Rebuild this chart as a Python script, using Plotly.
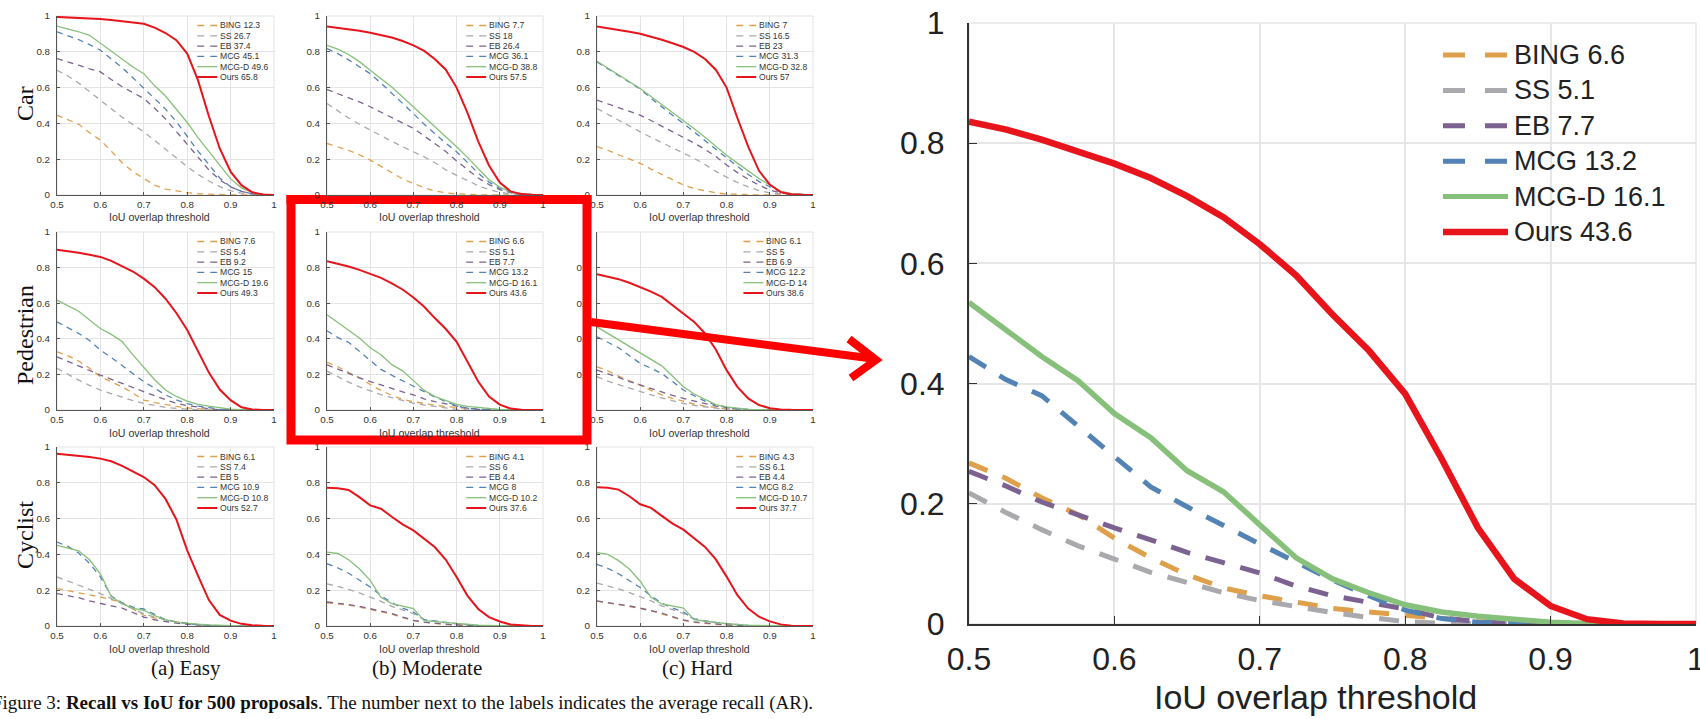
import plotly.graph_objects as go

W, H = 1700, 719

# ---------------- data ----------------
IOU = [0.5, 0.525, 0.55, 0.575, 0.6, 0.625, 0.65, 0.675, 0.7, 0.725, 0.75,
       0.775, 0.8, 0.825, 0.85, 0.875, 0.9, 0.925, 0.95, 0.975, 1.0]
METHODS = ["BING", "SS", "EB", "MCG", "MCG-D", "Ours"]
ROW_LABELS = ["Car", "Pedestrian", "Cyclist"]
COL_LABELS = ["(a) Easy", "(b) Moderate", "(c) Hard"]
X_TICKS = [0.5, 0.6, 0.7, 0.8, 0.9, 1.0]
X_TICK_TEXT = ["0.5", "0.6", "0.7", "0.8", "0.9", "1"]
Y_TICKS = [0, 0.2, 0.4, 0.6, 0.8, 1.0]
Y_TICK_TEXT = ["0", "0.2", "0.4", "0.6", "0.8", "1"]
X_LABEL = "IoU overlap threshold"

car_easy = {
    "BING":  [.446, .42, .395, .348, .307, .245, .18, .13, .093, .055, .033, .022, .013, .007, .004, .002, .001, 0, 0, 0, 0],
    "SS":    [.697, .665, .625, .578, .53, .48, .435, .393, .353, .305, .255, .206, .158, .115, .078, .047, .024, .01, .004, .001, 0],
    "EB":    [.762, .745, .725, .705, .688, .645, .605, .572, .539, .485, .425, .355, .285, .215, .14, .085, .045, .02, .007, .002, 0],
    "MCG":   [.911, .89, .868, .84, .809, .76, .712, .655, .595, .535, .48, .41, .325, .245, .17, .095, .046, .02, .007, .002, 0],
    "MCG-D": [.944, .93, .912, .892, .848, .80, .755, .715, .678, .61, .553, .48, .405, .32, .245, .165, .09, .04, .013, .004, 0],
    "Ours":  [.995, .993, .99, .987, .983, .978, .972, .966, .957, .935, .905, .865, .79, .64, .44, .26, .13, .055, .015, .003, 0],
}
car_moderate = {
    "BING":  [.288, .27, .25, .225, .195, .16, .125, .09, .065, .04, .022, .012, .007, .003, .001, 0, 0, 0, 0, 0, 0],
    "SS":    [.511, .47, .43, .395, .362, .33, .30, .27, .242, .213, .18, .14, .11, .08, .052, .03, .015, .006, .002, .001, 0],
    "EB":    [.589, .567, .545, .52, .493, .463, .433, .403, .372, .33, .285, .243, .19, .14, .095, .058, .03, .014, .006, .002, 0],
    "MCG":   [.818, .79, .755, .718, .678, .625, .57, .512, .455, .395, .34, .29, .242, .18, .122, .072, .036, .013, .004, .001, 0],
    "MCG-D": [.836, .815, .785, .745, .697, .65, .603, .548, .493, .44, .382, .327, .27, .21, .145, .085, .044, .017, .005, .001, 0],
    "Ours":  [.942, .935, .927, .917, .907, .894, .88, .86, .836, .805, .758, .70, .60, .46, .30, .165, .07, .02, .005, .001, 0],
}
car_hard = {
    "BING":  [.27, .25, .225, .20, .177, .145, .115, .085, .056, .036, .022, .012, .006, .003, .001, 0, 0, 0, 0, 0, 0],
    "SS":    [.483, .45, .415, .385, .353, .322, .292, .262, .232, .205, .17, .132, .10, .07, .045, .025, .012, .005, .002, 0, 0],
    "EB":    [.53, .51, .488, .467, .446, .416, .385, .355, .325, .29, .255, .215, .168, .125, .088, .055, .028, .012, .004, .001, 0],
    "MCG":   [.743, .705, .668, .632, .592, .54, .49, .445, .40, .352, .302, .252, .205, .16, .115, .075, .046, .018, .006, .002, 0],
    "MCG-D": [.747, .71, .672, .635, .595, .55, .506, .462, .418, .37, .322, .272, .222, .178, .135, .092, .056, .022, .008, .002, 0],
    "Ours":  [.942, .933, .922, .912, .901, .885, .867, .848, .827, .80, .76, .70, .60, .43, .27, .135, .058, .016, .004, .001, 0],
}
ped_easy = {
    "BING":  [.327, .305, .275, .235, .187, .16, .13, .095, .056, .042, .03, .02, .012, .006, .002, 0, 0, 0, 0, 0, 0],
    "SS":    [.234, .2, .168, .138, .112, .092, .072, .053, .037, .025, .015, .009, .004, .001, 0, 0, 0, 0, 0, 0, 0],
    "EB":    [.299, .272, .248, .222, .196, .172, .148, .125, .103, .08, .058, .038, .025, .014, .007, .002, 0, 0, 0, 0, 0],
    "MCG":   [.495, .463, .43, .39, .336, .295, .25, .205, .159, .122, .085, .057, .036, .022, .012, .005, .002, 0, 0, 0, 0],
    "MCG-D": [.617, .585, .555, .505, .458, .425, .385, .31, .243, .17, .112, .076, .05, .032, .022, .013, .005, .002, .001, 0, 0],
    "Ours":  [.901, .893, .883, .872, .86, .838, .81, .778, .738, .69, .625, .545, .449, .325, .21, .115, .055, .015, .003, 0, 0],
}
ped_moderate = {
    "BING":  [.268, .243, .21, .182, .143, .11, .082, .06, .047, .036, .026, .02, .014, .008, .004, .001, 0, 0, 0, 0, 0],
    "SS":    [.218, .186, .157, .13, .108, .086, .069, .052, .039, .028, .019, .011, .004, .001, 0, 0, 0, 0, 0, 0, 0],
    "EB":    [.254, .23, .203, .181, .16, .14, .119, .102, .085, .063, .047, .036, .025, .01, .004, .001, 0, 0, 0, 0, 0],
    "MCG":   [.445, .407, .38, .33, .279, .228, .195, .163, .133, .103, .073, .047, .023, .009, .003, .001, 0, 0, 0, 0, 0],
    "MCG-D": [.535, .49, .445, .405, .35, .31, .255, .22, .165, .11, .075, .052, .032, .02, .013, .008, .003, .001, 0, 0, 0],
    "Ours":  [.836, .823, .806, .787, .766, .742, .712, .677, .632, .58, .515, .455, .383, .275, .160, .075, .030, .008, .001, 0, 0],
}
ped_hard = {
    "BING":  [.243, .22, .19, .165, .14, .11, .085, .065, .047, .033, .022, .012, .006, .002, 0, 0, 0, 0, 0, 0, 0],
    "SS":    [.187, .162, .142, .122, .103, .085, .068, .052, .037, .026, .017, .01, .005, .002, 0, 0, 0, 0, 0, 0, 0],
    "EB":    [.224, .205, .183, .16, .14, .12, .1, .082, .065, .05, .035, .022, .013, .006, .002, 0, 0, 0, 0, 0, 0],
    "MCG":   [.411, .38, .35, .305, .262, .235, .205, .16, .112, .08, .05, .028, .015, .007, .003, 0, 0, 0, 0, 0, 0],
    "MCG-D": [.467, .43, .395, .355, .318, .285, .248, .19, .131, .09, .058, .03, .018, .009, .004, .002, 0, 0, 0, 0, 0],
    "Ours":  [.763, .75, .735, .715, .692, .665, .635, .59, .542, .495, .43, .34, .224, .13, .065, .028, .01, .003, .001, 0, 0],
}
cyc_easy = {
    "BING":  [.209, .198, .187, .172, .162, .148, .13, .095, .06, .045, .033, .022, .013, .007, .003, 0, 0, 0, 0, 0, 0],
    "SS":    [.274, .252, .228, .205, .181, .155, .125, .095, .069, .05, .035, .022, .013, .006, .002, 0, 0, 0, 0, 0, 0],
    "EB":    [.181, .17, .158, .14, .125, .113, .1, .075, .05, .035, .025, .016, .01, .005, .002, 0, 0, 0, 0, 0, 0],
    "MCG":   [.469, .445, .408, .35, .274, .168, .13, .105, .095, .065, .035, .022, .013, .008, .004, .001, 0, 0, 0, 0, 0],
    "MCG-D": [.451, .435, .42, .37, .292, .165, .125, .098, .088, .058, .035, .022, .015, .01, .006, .003, .001, 0, 0, 0, 0],
    "Ours":  [.963, .957, .952, .944, .935, .92, .895, .862, .832, .787, .71, .595, .423, .28, .145, .062, .03, .012, .004, .001, 0],
}
cyc_moderate = {
    "BING":  [.13, .125, .117, .106, .094, .082, .066, .047, .03, .02, .013, .008, .005, .002, 0, 0, 0, 0, 0, 0, 0],
    "SS":    [.236, .222, .205, .185, .162, .138, .11, .088, .069, .035, .025, .018, .012, .006, .002, 0, 0, 0, 0, 0, 0],
    "EB":    [.134, .128, .12, .11, .097, .085, .07, .05, .032, .022, .015, .01, .006, .003, 0, 0, 0, 0, 0, 0, 0],
    "MCG":   [.348, .325, .295, .255, .218, .17, .13, .1, .078, .035, .026, .02, .013, .007, .003, 0, 0, 0, 0, 0, 0],
    "MCG-D": [.413, .405, .37, .32, .255, .16, .125, .11, .097, .03, .025, .02, .013, .008, .005, .003, .001, 0, 0, 0, 0],
    "Ours":  [.772, .77, .76, .72, .674, .655, .61, .568, .534, .488, .44, .37, .274, .17, .095, .05, .025, .008, .002, 0, 0],
}
cyc_hard = {
    "BING":  [.138, .13, .12, .109, .097, .085, .068, .048, .031, .021, .014, .009, .005, .002, 0, 0, 0, 0, 0, 0, 0],
    "SS":    [.24, .225, .207, .187, .165, .14, .112, .09, .07, .037, .026, .018, .012, .006, .002, 0, 0, 0, 0, 0, 0],
    "EB":    [.14, .132, .123, .112, .1, .088, .072, .052, .034, .023, .016, .01, .006, .003, 0, 0, 0, 0, 0, 0, 0],
    "MCG":   [.345, .322, .292, .252, .215, .168, .128, .1, .078, .04, .028, .02, .013, .007, .003, 0, 0, 0, 0, 0, 0],
    "MCG-D": [.41, .4, .365, .318, .25, .16, .123, .11, .1, .035, .026, .02, .013, .008, .005, .003, .001, 0, 0, 0, 0],
    "Ours":  [.775, .772, .762, .725, .68, .66, .615, .572, .538, .49, .442, .372, .276, .172, .097, .052, .026, .009, .002, 0, 0],
}

# average recall shown in the legends (BING, SS, EB, MCG, MCG-D, Ours)
ar_car_easy = ["12.3", "26.7", "37.4", "45.1", "49.6", "65.8"]
ar_car_moderate = ["7.7", "18", "26.4", "36.1", "38.8", "57.5"]
ar_car_hard = ["7", "16.5", "23", "31.3", "32.8", "57"]
ar_ped_easy = ["7.6", "5.4", "9.2", "15", "19.6", "49.3"]
ar_ped_moderate = ["6.6", "5.1", "7.7", "13.2", "16.1", "43.6"]
ar_ped_hard = ["6.1", "5", "6.9", "12.2", "14", "38.6"]
ar_cyc_easy = ["6.1", "7.4", "5", "10.9", "10.8", "52.7"]
ar_cyc_moderate = ["4.1", "6", "4.4", "8", "10.2", "37.6"]
ar_cyc_hard = ["4.3", "6.1", "4.4", "8.2", "10.7", "37.7"]

CAPTION_PREFIX = "Figure 3: "
CAPTION_BOLD = "Recall vs IoU for 500 proposals"
CAPTION_REST = ". The number next to the labels indicates the average recall (AR)."

# ---------------- styling ----------------
COLORS = {"BING": "#DFA04C", "SS": "#A9A9AE", "EB": "#7C6290",
          "MCG": "#5383B4", "MCG-D": "#86C07A", "Ours": "#E8141C"}
SANS = "Liberation Sans, Arial, Helvetica, sans-serif"
SERIF = "Liberation Serif, Times New Roman, serif"

CHAR_W = {"0": .556, "1": .556, "2": .556, "3": .556, "4": .556, "5": .556, "6": .556,
          "7": .556, "8": .556, "9": .556, ".": .278, " ": .278, "-": .333,
          "B": .667, "I": .278, "N": .722, "G": .778, "S": .667, "E": .667,
          "M": .833, "C": .722, "D": .722, "O": .778, "u": .556, "r": .333, "s": .5}


def text_w(s, size):
    return sum(CHAR_W.get(c, .556) for c in s) * size


SMALL = dict(tick=9.8, line=1, grid=1, ticklen=3, ys=4, xs=0,
             dash="6px,5px", lw_dash=1.3, lw_green=1.3, lw_red=2.0,
             lfont=8.6, lfirst=9.5, lstep=10.3, sw=20, sgap=1.5, rpad=7,
             sdash="7px,6px", slw=1.3, slw_red=2.0, axcol="#555", txt="#333",
             gridcol="#e3e3e3")
BIG = dict(tick=32, line=2, grid=1.5, ticklen=8, ys=16, xs=6,
           dash="20px,16px", lw_dash=5, lw_green=5.5, lw_red=6.5,
           lfont=27, lfirst=32, lstep=35.4, sw=65, sgap=5, rpad=31.5,
           sdash="22px,20px", slw=5, slw_red=6.5, axcol="#333", txt="#222",
           gridcol="#e6e6e6")

fig = go.Figure()
shapes = []
annotations = []
layout_axes = {}


def px2x(px):
    return px / W


def px2y(py):
    return 1 - py / H


def add_panel(idx, xpx, ypx, data, ar, st):
    xname = "x" if idx == 1 else f"x{idx}"
    yname = "y" if idx == 1 else f"y{idx}"
    xkey = "xaxis" if idx == 1 else f"xaxis{idx}"
    ykey = "yaxis" if idx == 1 else f"yaxis{idx}"
    pw = xpx[1] - xpx[0]
    ph = ypx[1] - ypx[0]
    layout_axes[xkey] = dict(
        domain=[px2x(xpx[0]), px2x(xpx[1])], range=[0.5, 1.0], anchor=yname,
        tickvals=X_TICKS, ticktext=X_TICK_TEXT, showgrid=True,
        gridcolor=st["gridcol"], gridwidth=st["grid"], showline=True,
        linecolor=st["axcol"], linewidth=st["line"], ticks="inside",
        ticklen=st["ticklen"], tickcolor=st["axcol"], zeroline=False,
        tickfont=dict(family=SANS, size=st["tick"], color=st["txt"]),
        ticklabelstandoff=st["xs"], ticklabeloverflow="allow", fixedrange=True)
    layout_axes[ykey] = dict(
        domain=[px2y(ypx[1]), px2y(ypx[0])], range=[0, 1.0], anchor=xname,
        tickvals=Y_TICKS, ticktext=Y_TICK_TEXT, showgrid=True,
        gridcolor=st["gridcol"], gridwidth=st["grid"], showline=True,
        linecolor=st["axcol"], linewidth=st["line"], ticks="inside",
        ticklen=st["ticklen"], tickcolor=st["axcol"], zeroline=False,
        tickfont=dict(family=SANS, size=st["tick"], color=st["txt"]),
        ticklabelstandoff=st["ys"], ticklabeloverflow="allow", fixedrange=True)
    # light plot box
    shapes.append(dict(type="rect", xref=f"{xname} domain", yref=f"{yname} domain",
                       x0=0, x1=1, y0=0, y1=1, layer="below",
                       line=dict(color=st["gridcol"], width=st["grid"])))
    for m in METHODS:
        if m == "Ours":
            line = dict(color=COLORS[m], width=st["lw_red"])
        elif m == "MCG-D":
            line = dict(color=COLORS[m], width=st["lw_green"])
        else:
            line = dict(color=COLORS[m], width=st["lw_dash"], dash=st["dash"])
        fig.add_trace(go.Scatter(x=IOU, y=data[m], mode="lines", line=line,
                                 xaxis=xname, yaxis=yname, name=m,
                                 showlegend=False, hoverinfo="skip"))
    # legend (MATLAB style, right-anchored)
    labels = [f"{m} {a}" for m, a in zip(METHODS, ar)]
    maxw = max(text_w(s, st["lfont"]) for s in labels)
    tx = xpx[1] - st["rpad"] - maxw
    for k, (m, lab) in enumerate(zip(METHODS, labels)):
        yy = 1 - (st["lfirst"] + k * st["lstep"]) / ph
        x1 = (tx - st["sgap"] - xpx[0]) / pw
        x0 = (tx - st["sgap"] - st["sw"] - xpx[0]) / pw
        if m in ("Ours", "MCG-D"):
            sl = dict(color=COLORS[m], width=st["slw_red"] if m == "Ours" else st["slw"])
        else:
            sl = dict(color=COLORS[m], width=st["slw"], dash=st["sdash"])
        shapes.append(dict(type="line", xref=f"{xname} domain", yref=f"{yname} domain",
                           x0=x0, x1=x1, y0=yy, y1=yy, line=sl))
        annotations.append(dict(text=lab, xref=f"{xname} domain", yref=f"{yname} domain",
                                x=(tx - xpx[0]) / pw, y=yy, xanchor="left", yanchor="middle",
                                showarrow=False, borderpad=0,
                                font=dict(family=SANS, size=st["lfont"], color=st["txt"])))


small_cols = [(57, 274), (327, 543), (597, 813)]
small_rows = [(16, 195), (232, 410), (447, 626)]
panels = [
    [(car_easy, ar_car_easy), (car_moderate, ar_car_moderate), (car_hard, ar_car_hard)],
    [(ped_easy, ar_ped_easy), (ped_moderate, ar_ped_moderate), (ped_hard, ar_ped_hard)],
    [(cyc_easy, ar_cyc_easy), (cyc_moderate, ar_cyc_moderate), (cyc_hard, ar_cyc_hard)],
]

idx = 1
for r in range(3):
    for c in range(3):
        d, a = panels[r][c]
        add_panel(idx, small_cols[c], small_rows[r], d, a, SMALL)
        cx = (small_cols[c][0] + small_cols[c][1]) / 2 - 6
        annotations.append(dict(text=X_LABEL, xref="paper", yref="paper",
                                x=px2x(cx), y=px2y(small_rows[r][1] + 22.5),
                                xanchor="center", yanchor="middle", showarrow=False,
                                font=dict(family=SANS, size=10.6, color="#333")))
        idx += 1

# enlarged panel: Pedestrian / Moderate
add_panel(10, (969, 1696), (23, 624), ped_moderate, ar_ped_moderate, BIG)
annotations.append(dict(text=X_LABEL, xref="paper", yref="paper",
                        x=px2x(1315), y=px2y(697), xanchor="center", yanchor="middle",
                        showarrow=False, font=dict(family=SANS, size=34, color="#222")))

# row labels
for lab, cy in zip(ROW_LABELS, [104, 335, 535]):
    annotations.append(dict(text=lab, xref="paper", yref="paper", x=px2x(25), y=px2y(cy),
                            textangle=-90, xanchor="center", yanchor="middle",
                            showarrow=False, font=dict(family=SERIF, size=24, color="#111")))
# column captions
for lab, cx in zip(COL_LABELS, [186, 427, 697]):
    annotations.append(dict(text=lab, xref="paper", yref="paper", x=px2x(cx), y=px2y(668),
                            xanchor="center", yanchor="middle", showarrow=False,
                            font=dict(family=SERIF, size=21, color="#111")))
# figure caption (left part cut off by the picture edge, as in the source)
annotations.append(dict(text=CAPTION_PREFIX + "<b>" + CAPTION_BOLD + "</b>" + CAPTION_REST,
                        xref="paper", yref="paper", x=px2x(-10.5), y=px2y(703),
                        xanchor="left", yanchor="middle", showarrow=False,
                        font=dict(family=SERIF, size=19, color="#111")))

# red highlight rectangle and arrow
RED = "#FF0000"
shapes.append(dict(type="line", xref="paper", yref="paper", layer="below",
                   x0=px2x(286.5), x1=px2x(591.5), y0=px2y(199.5), y1=px2y(199.5),
                   line=dict(color=RED, width=9)))
shapes.append(dict(type="path", xref="paper", yref="paper",
                   path=f"M{px2x(291)},{px2y(195)} L{px2x(291)},{px2y(440)} "
                        f"L{px2x(587)},{px2y(440)} L{px2x(587)},{px2y(195)}",
                   line=dict(color=RED, width=9)))
shapes.append(dict(type="line", xref="paper", yref="paper",
                   x0=px2x(591), x1=px2x(872), y0=px2y(322), y1=px2y(358.5),
                   line=dict(color=RED, width=8)))
shapes.append(dict(type="path", xref="paper", yref="paper",
                   path=f"M{px2x(849)},{px2y(339)} L{px2x(876)},{px2y(360)} L{px2x(851)},{px2y(378)}",
                   line=dict(color=RED, width=8)))

fig.update_layout(
    width=W, height=H, margin=dict(l=0, r=0, t=0, b=0, autoexpand=False),
    paper_bgcolor="white", plot_bgcolor="rgba(0,0,0,0)",
    showlegend=False, shapes=shapes, annotations=annotations,
    font=dict(family=SANS), **layout_axes)

fig.write_html("out.html", config={"displayModeBar": False},
               post_script="document.body.style.margin='0';document.body.style.overflow='hidden';")
